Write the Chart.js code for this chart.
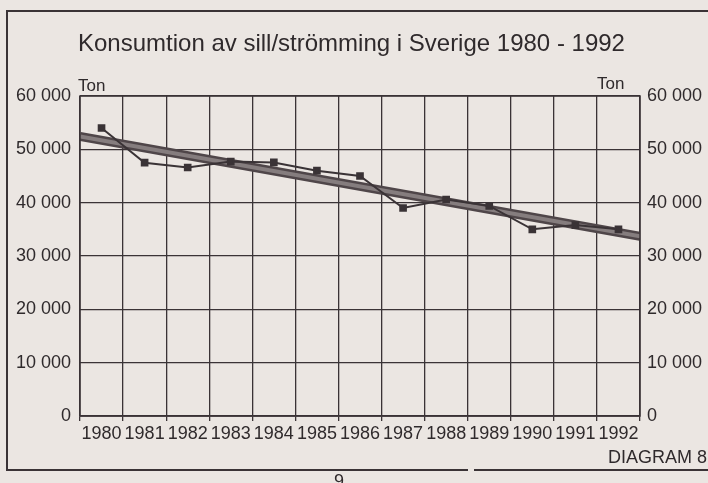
<!DOCTYPE html>
<html>
<head>
<meta charset="utf-8">
<script src="https://cdn.jsdelivr.net/npm/chart.js@4.4.1/dist/chart.umd.min.js"></script>
<style>
  html, body { margin: 0; padding: 0; background: #ebe6e2; }
  #wrap { position: relative; width: 708px; height: 483px; overflow: hidden; font-family: "Liberation Sans", Arial, sans-serif; color: #2f2a2c; }
  #chart { position: absolute; left: 0; top: 0; }
  .txt { position: absolute; white-space: nowrap; line-height: 1; }
  .rule { position: absolute; background: #3a3336; }
</style>
</head>
<body>
<div id="wrap">
  <canvas id="chart" width="708" height="483"></canvas>
  <div class="rule" style="left:6px; top:10px; width:702px; height:1.5px;"></div>
  <div class="rule" style="left:6px; top:10px; width:1.5px; height:460px;"></div>
  <div class="rule" style="left:6px; top:469px; width:462px; height:1.5px;"></div>
  <div class="rule" style="left:474px; top:469px; width:234px; height:1.5px;"></div>
  <div class="txt" style="left:78px; top:31px; font-size:24px;">Konsumtion av sill/strömming i Sverige 1980 - 1992</div>
  <div class="txt" style="left:78px; top:77px; font-size:17px;">Ton</div>
  <div class="txt" style="left:597px; top:75px; font-size:17px;">Ton</div>
  <div class="txt" style="right:1px; top:448px; font-size:18px;">DIAGRAM 8</div>
  <div class="txt" style="left:334px; top:472px; font-size:18px;">9</div>
</div>
<script>
// Consumption of herring in Sweden, tonnes per year
const years = ['1980', '1981', '1982', '1983', '1984', '1985', '1986',
               '1987', '1988', '1989', '1990', '1991', '1992'];
const consumption = [54000, 47500, 46600, 47700, 47550, 46000, 45000,
                     39000, 40600, 39400, 35000, 35800, 35000];
// trend line ends, at the outer edges of the first and last year
const trendEnds = [52400, 33700];
const yTicks = [0, 10000, 20000, 30000, 40000, 50000, 60000];

const ink = '#3a3336';
const fmt = v => String(v).replace(/\B(?=(\d{3})+(?!\d))/g, ' ');

const trendPoints = [{ x: 0, y: trendEnds[0] }, { x: years.length, y: trendEnds[1] }];

const yCommon = {
    min: 0,
    max: 60000,
    afterBuildTicks: axis => { axis.ticks = yTicks.map(v => ({ value: v })); },
    ticks: {
        color: '#2f2a2c',
        font: { size: 18, family: '"Liberation Sans", Arial, sans-serif' },
        callback: v => fmt(v)
    },
    border: { display: false }
};

new Chart(document.getElementById('chart'), {
    type: 'line',
    data: {
        labels: years,
        datasets: [
            {
                label: 'Konsumtion',
                data: consumption,
                xAxisID: 'x',
                yAxisID: 'y',
                borderColor: ink,
                borderWidth: 2,
                pointStyle: 'rect',
                pointRadius: 4,
                pointBackgroundColor: ink,
                pointBorderColor: ink,
                tension: 0,
                order: 0
            },
            {
                label: 'Trend',
                data: trendPoints,
                xAxisID: 'xt',
                yAxisID: 'y',
                borderColor: '#857d7e',
                borderWidth: 4,
                pointRadius: 0,
                order: 1
            },
            {
                label: 'Trend kant',
                data: trendPoints,
                xAxisID: 'xt',
                yAxisID: 'y',
                borderColor: '#4f4649',
                borderWidth: 9,
                pointRadius: 0,
                order: 2
            }
        ]
    },
    options: {
        responsive: false,
        animation: false,
        layout: { padding: { top: 96, left: 0, right: 0, bottom: 0 } },
        plugins: {
            legend: { display: false },
            tooltip: { enabled: false }
        },
        scales: {
            x: {
                offset: true,
                grid: { offset: true, color: ink, lineWidth: 1.3, tickLength: 5, drawTicks: true },
                border: { color: ink, width: 1.5 },
                ticks: {
                    color: '#2f2a2c',
                    font: { size: 18, family: '"Liberation Sans", Arial, sans-serif' },
                    autoSkip: false,
                    maxRotation: 0,
                    padding: 2
                },
                afterFit: s => { s.height = 67; }
            },
            xt: {
                type: 'linear',
                display: false,
                min: 0,
                max: years.length
            },
            y: {
                ...yCommon,
                position: 'left',
                grid: { color: ink, lineWidth: 1.3, drawTicks: false },
                ticks: { ...yCommon.ticks, padding: 9 },
                afterFit: s => { s.width = 80; }
            },
            y2: {
                ...yCommon,
                position: 'right',
                grid: { display: false, drawTicks: false, tickLength: 0 },
                ticks: { ...yCommon.ticks, padding: 7 },
                afterFit: s => { s.width = 68; }
            }
        }
    },
    plugins: [{
        // closes the plot box on the top and right
        id: 'plotBox',
        afterDraw(chart) {
            const { ctx, chartArea: a } = chart;
            ctx.save();
            ctx.strokeStyle = ink;
            ctx.lineWidth = 1.5;
            ctx.strokeRect(a.left, a.top, a.right - a.left, a.bottom - a.top);
            ctx.restore();
        }
    }]
});
</script>
</body>
</html>
